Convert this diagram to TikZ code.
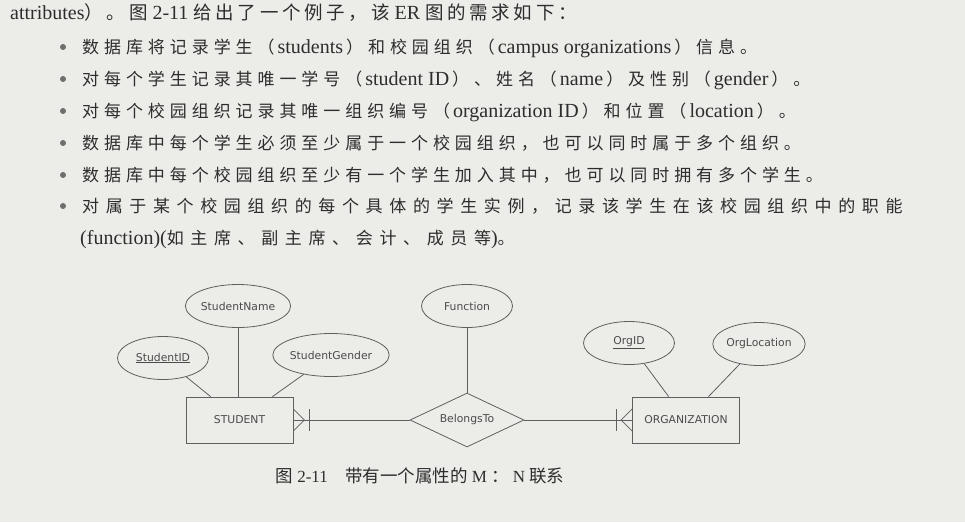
\documentclass[tikz,border=0pt]{standalone}
\usepackage{fontspec}
\usetikzlibrary{shapes.geometric,calc}
\setmainfont{Liberation Serif}
\newfontfamily\kaiface{Noto Sans CJK SC}[LetterSpace=29]
\newfontfamily\kaiwideface{Noto Sans CJK SC}[LetterSpace=39]
\newfontfamily\songface{Noto Sans CJK SC}[LetterSpace=20]
\newfontfamily\capface{Noto Sans CJK SC}
\newfontfamily\labelface{DejaVu Sans}
\definecolor{paper}{RGB}{236,236,233}
\definecolor{ink}{RGB}{45,45,45}
\definecolor{softink}{RGB}{75,75,75}
\definecolor{dotink}{RGB}{110,110,110}
\definecolor{lineink}{RGB}{95,95,95}
% CJK runs inside the running text, with a small gap where they meet Latin words
\newcommand\kz[1]{{\fontsize{17}{20}\selectfont\kaiface #1}}
\newcommand\kzw[1]{{\fontsize{17}{20}\selectfont\kaiwideface #1}}
\newcommand\sz[1]{{\fontsize{18.5}{20}\selectfont\songface #1}}
\newcommand\cz[1]{{\fontsize{17.5}{20}\selectfont\capface #1}}
\newcommand\gap{\kern5pt}
\newcommand\pgap{\kern3pt}
\tikzset{
  textline/.style={anchor=base west, inner sep=0pt, text=ink, font=\fontsize{20}{22}\selectfont},
  bulletdot/.style={circle, fill=dotink, inner sep=0pt, minimum size=6pt},
  attr/.style={ellipse, draw=lineink, line width=0.8pt, minimum width=91pt, minimum height=43pt,
    inner sep=0pt, text=softink, font=\labelface\fontsize{10.8}{12}\selectfont},
  entity/.style={rectangle, draw=lineink, line width=0.8pt, minimum width=107pt, minimum height=46pt,
    inner sep=0pt, text=softink, font=\labelface\fontsize{10.8}{12}\selectfont},
  rel/.style={diamond, draw=lineink, line width=0.8pt, aspect=2.1, minimum width=114pt, minimum height=54pt,
    inner sep=0pt, text=softink, font=\labelface\fontsize{10.8}{12}\selectfont},
  conn/.style={draw=lineink, line width=0.8pt},
  caption/.style={anchor=base, inner sep=0pt, text=ink, font=\fontsize{17}{20}\selectfont},
}
\begin{document}
\begin{tikzpicture}[x=1pt,y=-1pt]
\fill[paper] (0,0) rectangle (965,522);
\useasboundingbox (0,0) rectangle (965,522);

% running text above the figure
\node[textline] (t1) at (10,19) {attributes\sz{）。图}\gap 2-11\gap\sz{给出了一个例子，该}\gap ER\gap\sz{图的需求如下：}};
\node[bulletdot] (b2) at (63,47) {};
\node[textline] (t2) at (82,53.5) {\kz{数据库将记录学生（}\pgap students\pgap\kz{）和校园组织（}\pgap campus organizations\pgap\kz{）信息。}};
\node[bulletdot] (b3) at (63,79) {};
\node[textline] (t3) at (82,85.5) {\kz{对每个学生记录其唯一学号（}\pgap student ID\pgap\kz{）、姓名（}\pgap name\pgap\kz{）及性别（}\pgap gender\pgap\kz{）。}};
\node[bulletdot] (b4) at (63,111) {};
\node[textline] (t4) at (82,117.5) {\kz{对每个校园组织记录其唯一组织编号（}\pgap organization ID\pgap\kz{）和位置（}\pgap location\pgap\kz{）。}};
\node[bulletdot] (b5) at (63,143) {};
\node[textline] (t5) at (82,149.5) {\kz{数据库中每个学生必须至少属于一个校园组织，也可以同时属于多个组织。}};
\node[bulletdot] (b6) at (63,175) {};
\node[textline] (t6) at (82,181.5) {\kz{数据库中每个校园组织至少有一个学生加入其中，也可以同时拥有多个学生。}};
\node[bulletdot] (b7) at (63,206) {};
\node[textline] (t7) at (82,212.5) {\kzw{对属于某个校园组织的每个具体的学生实例，记录该学生在该校园组织中的职能}};
\node[textline] (t8) at (80,244.5) {(function)(\kzw{如主席、副主席、会计、成员等})\kz{。}};

% ER diagram
\node[attr] (sname) at (238,306) {StudentName};
\node[attr] (sid) at (163,358) {\underline{StudentID}};
\node[attr] (sgender) at (331,355) {StudentGender};
\node[entity] (stu) at (239.5,420) {STUDENT};
\node[attr] (func) at (467,306) {Function};
\node[rel] (bel) at (467,420) {BelongsTo};
\node[attr] (oid) at (629,343) {\underline{OrgID}};
\node[attr] (oloc) at (759,344) {OrgLocation};
\node[entity] (org) at (686,420) {ORGANIZATION};

\draw[conn] (sname) -- (sname |- stu.north);
\draw[conn] (sid) -- (stu);
\draw[conn] (sgender) -- (stu);
\draw[conn] (func) -- (bel);
\draw[conn] (oid) -- (org);
\draw[conn] (oloc) -- (org);
\draw[conn] (stu.east) -- (bel.west);
\draw[conn] (bel.east) -- (org.west);

% crow's feet (many) with a bar (mandatory)
\draw[conn] ($(stu.east)+(0,-11)$) -- ($(stu.east)+(11,0)$) -- ($(stu.east)+(0,11)$);
\draw[conn] ($(stu.east)+(16,-11)$) -- ($(stu.east)+(16,11)$);
\draw[conn] ($(org.west)+(0,-11)$) -- ($(org.west)+(-11,0)$) -- ($(org.west)+(0,11)$);
\draw[conn] ($(org.west)+(-16,-11)$) -- ($(org.west)+(-16,11)$);

% figure caption
\node[caption] (cap) at (420,482) {\cz{图 }2-11\cz{\quad 带有一个属性的 }M \cz{：} N\cz{ 联系}};
\end{tikzpicture}
\end{document}
